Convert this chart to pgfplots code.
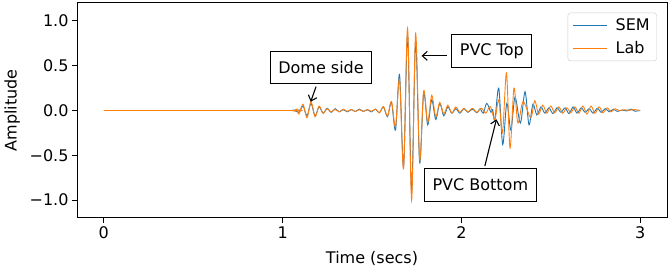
\documentclass[border=0pt]{standalone}
\usepackage{fontspec}
\setmainfont{DejaVu Sans}
\usepackage{pgfplots}
\pgfplotsset{compat=1.18}
\usetikzlibrary{arrows.meta,calc}
\definecolor{cblue}{HTML}{1F77B4}
\definecolor{corange}{HTML}{FF7F0E}
\begin{document}
\begin{tikzpicture}[font=\fontsize{16}{19}\selectfont]
\begin{axis}[
  width=590pt, height=215pt, scale only axis,
  xmin=-0.15, xmax=3.15, ymin=-1.2, ymax=1.2,
  xtick={0,1,2,3}, xticklabels={0,1,2,3},
  ytick={-1,-0.5,0,0.5,1}, yticklabels={−1.0,−0.5,0.0,0.5,1.0},
  tick align=outside, xtick pos=bottom, ytick pos=left,
  major tick length=5pt,
  every tick/.style={black, line width=1pt},
  axis line style={line width=1pt},
  ticklabel style={font=\fontsize{16}{19}\selectfont},
  label style={font=\fontsize{16}{19}\selectfont},
  xlabel={Time (secs)}, ylabel={Amplitude},
  xlabel style={at={(axis description cs:0.5,-0.186)}, anchor=center},
  ylabel style={at={(axis description cs:-0.110,0.5)}, anchor=center},
  legend style={at={(0.983,0.955)}, anchor=north east, draw=black!20, rounded corners=3pt,
    fill=white, font=\fontsize{16}{19}\selectfont, inner xsep=5pt, inner ysep=4pt,
    row sep=5pt, nodes={inner sep=2pt},
    /tikz/every even column/.append style={column sep=0pt}},
  legend cell align=left,
  legend image code/.code={\draw[#1] (0pt,0pt) -- (34pt,0pt); \path (40pt,0pt);},
]
\addplot[cblue, line width=0.9pt, smooth] coordinates {
(0,0) (1.04,0) (1.062,0.004) (1.0915,-0.02) (1.114,0.05) (1.1365,-0.06) (1.159,0.08) (1.1815,-0.06) (1.204,0.04) (1.2265,-0.03) (1.249,0.025) (1.2715,-0.02) (1.294,0.02) (1.3165,-0.015) (1.339,0.01) (1.3615,-0.015) (1.384,0.01) (1.4065,-0.012) (1.429,0.015) (1.4515,-0.01) (1.474,0.008) (1.4965,-0.015) (1.519,0.015) (1.5415,-0.025) (1.564,0.04) (1.5865,-0.07) (1.609,0.09) (1.6315,-0.22) (1.654,0.40) (1.6765,-0.63) (1.699,0.85) (1.7215,-0.90) (1.744,0.78) (1.7665,-0.58) (1.789,0.20) (1.8115,-0.16) (1.834,0.12) (1.8565,-0.10) (1.879,0.08) (1.9015,-0.06) (1.924,0.04) (1.9465,-0.03) (1.969,0.02) (1.9915,-0.03) (2.014,0.02) (2.0365,-0.02) (2.0615,0.015) (2.0865,-0.025) (2.105,0.02) (2.122,-0.03) (2.142,0.08) (2.165,-0.02) (2.175,0.01) (2.187,-0.11) (2.209,0.25) (2.231,-0.38) (2.254,0.08) (2.277,-0.22) (2.300,0.15) (2.330,-0.14) (2.356,0.21) (2.378,-0.16) (2.400,0.07) (2.422,-0.05) (2.445,0.04) (2.467,-0.03) (2.49,0.03) (2.512,-0.035) (2.535,0.03) (2.557,-0.02) (2.58,0.03) (2.602,-0.035) (2.625,0.04) (2.647,-0.03) (2.67,0.03) (2.692,-0.02) (2.715,0.02) (2.737,-0.03) (2.76,0.025) (2.782,-0.02) (2.805,0.02) (2.827,-0.015) (2.85,0.015) (2.872,-0.01) (2.9,0.005) (2.925,-0.005) (2.95,0.015) (2.97,-0.008) (3.0,0)
};
\addlegendentry{SEM}
\addplot[corange, line width=0.9pt, smooth] coordinates {
(0,0) (1.04,0) (1.062,-0.005) (1.08,0.015) (1.0915,-0.04) (1.114,0.07) (1.1365,-0.08) (1.159,0.10) (1.1815,-0.07) (1.204,0.05) (1.2265,-0.03) (1.249,0.02) (1.2715,-0.015) (1.294,0.012) (1.3165,-0.015) (1.339,0.015) (1.3615,-0.01) (1.384,0.012) (1.4065,-0.012) (1.429,0.01) (1.4515,-0.012) (1.474,0.012) (1.4965,-0.01) (1.519,0.015) (1.5415,-0.025) (1.564,0.045) (1.5865,-0.06) (1.609,0.10) (1.6315,-0.18) (1.654,0.35) (1.6765,-0.65) (1.699,0.92) (1.7215,-1.00) (1.744,0.86) (1.7665,-0.55) (1.789,0.22) (1.8115,-0.13) (1.834,0.17) (1.8565,-0.07) (1.879,0.09) (1.9015,-0.04) (1.924,0.06) (1.9465,-0.03) (1.969,0.04) (1.9915,-0.02) (2.014,0.025) (2.0365,-0.015) (2.0615,0.025) (2.0865,-0.02) (2.1115,0.025) (2.1365,-0.03) (2.1615,0.045) (2.187,-0.10) (2.209,0.12) (2.230,-0.25) (2.252,0.42) (2.272,-0.42) (2.294,0.25) (2.316,-0.14) (2.345,0.10) (2.388,-0.08) (2.410,0.11) (2.432,-0.04) (2.455,0.06) (2.478,-0.03) (2.50,0.05) (2.522,-0.025) (2.545,0.04) (2.567,-0.03) (2.59,0.03) (2.612,-0.025) (2.635,0.04) (2.657,-0.03) (2.68,0.05) (2.702,-0.04) (2.725,0.05) (2.747,-0.03) (2.77,0.04) (2.792,-0.025) (2.815,0.03) (2.837,-0.015) (2.86,0.02) (2.882,0.0) (2.91,0.008) (2.94,0.003) (2.97,0.01) (3.0,0)
};
\addlegendentry{Lab}
\draw[line width=1.1pt, -{Straight Barb[length=5pt,width=9pt]}] (axis cs:1.187,0.266) -- (axis cs:1.157,0.098);
\draw[line width=1.1pt, -{Straight Barb[length=5pt,width=9pt]}] (axis cs:1.917,0.61) -- (axis cs:1.777,0.61);
\draw[line width=1.1pt, -{Straight Barb[length=5pt,width=9pt]}] (axis cs:2.131,-0.62) -- (axis cs:2.196,-0.098);
\node[draw=black, line width=1pt, fill=white, inner xsep=8pt, minimum height=32pt] at (axis cs:1.215,0.475) {Dome side};
\node[draw=black, line width=1pt, fill=white, inner xsep=8pt, minimum height=33pt] at (axis cs:2.170,0.665) {PVC Top};
\node[draw=black, line width=1pt, fill=white, inner xsep=8pt, minimum height=33pt] at (axis cs:2.106,-0.832) {PVC Bottom};
\coordinate (SW) at (rel axis cs:0,0);
\coordinate (NE) at (rel axis cs:1,1);
\end{axis}
\pgfresetboundingbox
\path ($(SW)+(-77pt,-49pt)$) rectangle ($(NE)+(1pt,3pt)$);
\end{tikzpicture}
\end{document}
